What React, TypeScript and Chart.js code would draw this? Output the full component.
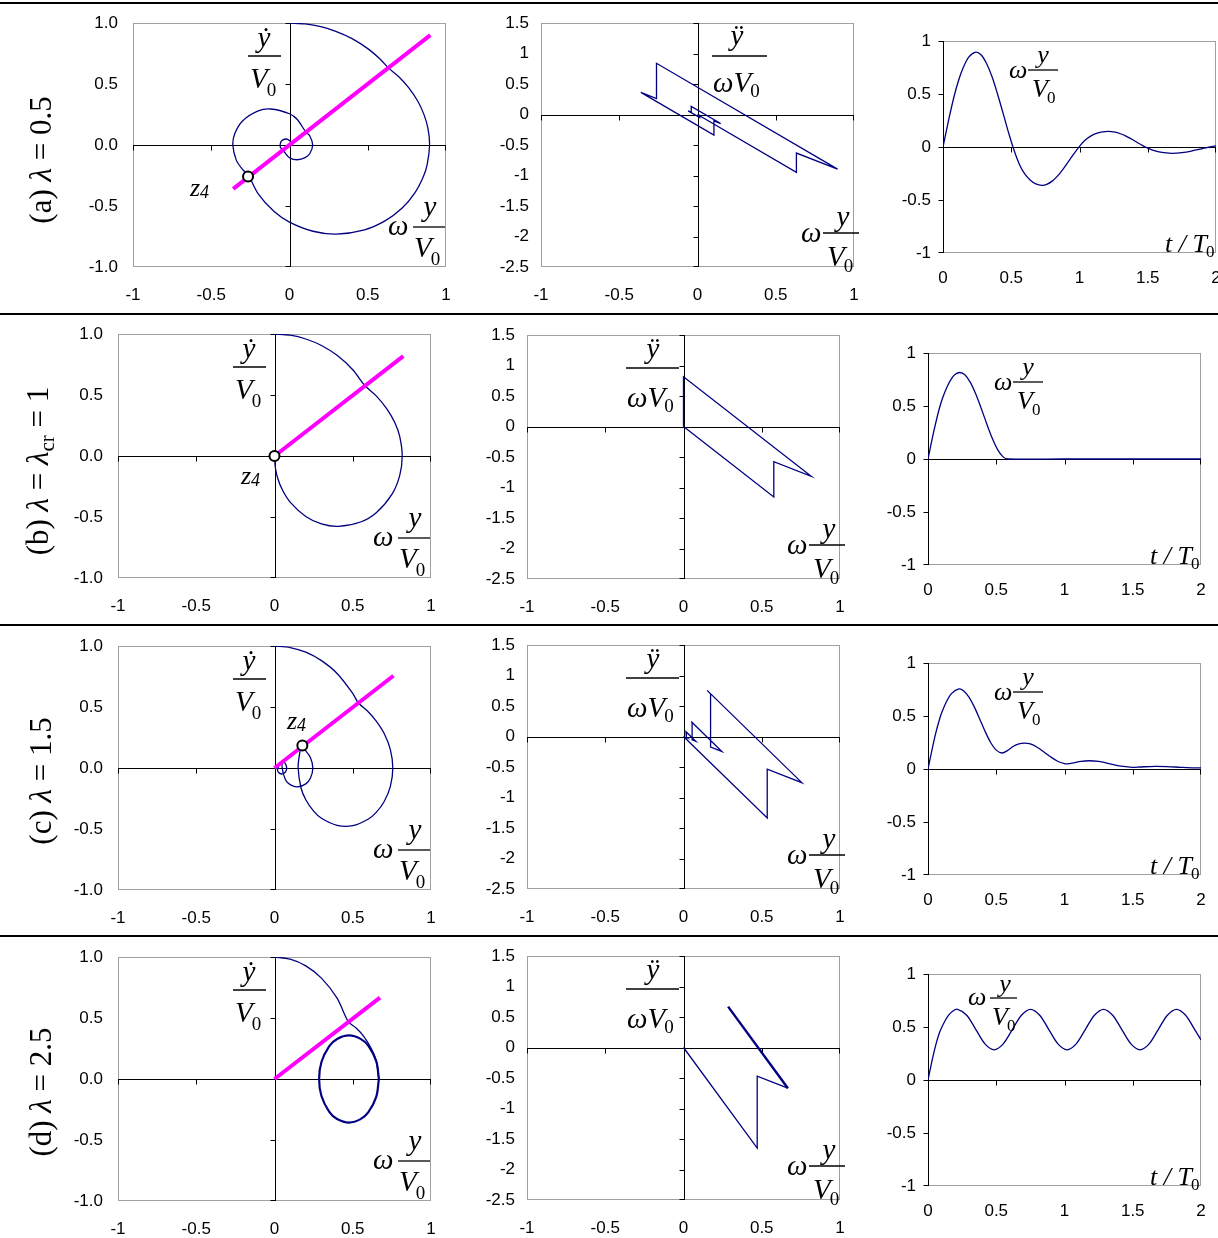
import React, { useEffect, useRef } from 'react';
import { Chart, registerables } from 'chart.js';

Chart.register(...registerables);

// ---------------- tick values and labels ----------------
const PHASE_X_TICKS = [-1, -0.5, 0, 0.5, 1];
const PHASE_X_LABELS = ['-1', '-0.5', '0', '0.5', '1'];
const PHASE_Y_TICKS = [-1, -0.5, 0, 0.5, 1];
const PHASE_Y_LABELS = ['-1.0', '-0.5', '0.0', '0.5', '1.0'];
const ACC_Y_TICKS = [-2.5, -2, -1.5, -1, -0.5, 0, 0.5, 1, 1.5];
const ACC_Y_LABELS = ['-2.5', '-2', '-1.5', '-1', '-0.5', '0', '0.5', '1', '1.5'];
const TIME_X_TICKS = [0, 0.5, 1, 1.5, 2];
const TIME_X_LABELS = ['0', '0.5', '1', '1.5', '2'];
const TIME_Y_TICKS = [-1, -0.5, 0, 0.5, 1];
const TIME_Y_LABELS = ['-1', '-0.5', '0', '0.5', '1'];

// ---------------- (a) λ = 0.5 ----------------
const phaseA_x = [0, 0.1, 0.2, 0.3, 0.4, 0.5, 0.58, 0.632, 0.7, 0.76, 0.82, 0.86, 0.885, 0.895, 0.88, 0.855, 0.8, 0.72, 0.61, 0.48, 0.3, 0.15, 0, -0.1, -0.2, -0.262, -0.3, -0.34, -0.362, -0.35, -0.3, -0.2, -0.12, 0, 0.05, 0.105, 0.13, 0.148, 0.13, 0.1, 0.05, 0, -0.04, -0.055, -0.06, -0.05, -0.02, 0.005, 0.02];
const phaseA_y = [1, 0.992, 0.97, 0.93, 0.872, 0.79, 0.703, 0.632, 0.558, 0.472, 0.359, 0.247, 0.134, 0, -0.158, -0.26, -0.394, -0.516, -0.622, -0.695, -0.73, -0.707, -0.632, -0.543, -0.4, -0.25, -0.2, -0.124, 0, 0.092, 0.197, 0.279, 0.295, 0.256, 0.209, 0.105, 0.074, 0, -0.07, -0.104, -0.121, -0.104, -0.045, -0.025, 0, 0.035, 0.049, 0.03, 0];
const lineA_x = [-0.36, 0.9];
const lineA_y = [-0.36, 0.9];
const z4A = [-0.265, -0.258];
const accA_x = [0, 0.632, 0.632, 0.895, -0.262, -0.262, -0.362, 0.105, 0.105, 0.148, -0.04, -0.04, -0.06, 0.015, 0.015, 0.02];
const accA_y = [0, -0.948, -0.632, -0.895, 0.84, 0.262, 0.362, -0.338, -0.105, -0.148, 0.134, 0.04, 0.06, -0.052, -0.015, -0.02];
const timeA_t = [0, 0.04, 0.08, 0.115, 0.15, 0.19, 0.24, 0.28, 0.32, 0.36, 0.4, 0.44, 0.48, 0.52, 0.56, 0.6, 0.64, 0.68, 0.724, 0.76, 0.8, 0.84, 0.88, 0.92, 0.96, 1.0, 1.04, 1.085, 1.13, 1.17, 1.21, 1.26, 1.3, 1.34, 1.38, 1.42, 1.46, 1.5, 1.56, 1.62, 1.68, 1.75, 1.82, 1.9, 2.0];
const timeA_y = [0, 0.247, 0.472, 0.632, 0.754, 0.85, 0.895, 0.868, 0.786, 0.66, 0.498, 0.319, 0.137, -0.029, -0.165, -0.257, -0.313, -0.348, -0.362, -0.353, -0.322, -0.272, -0.208, -0.136, -0.062, 0.006, 0.063, 0.105, 0.13, 0.143, 0.148, 0.141, 0.125, 0.103, 0.075, 0.045, 0.015, -0.011, -0.04, -0.053, -0.06, -0.054, -0.039, -0.015, 0.011];

// ---------------- (b) λ = λcr = 1 ----------------
const phaseB_x = [0, 0.1, 0.2, 0.3, 0.4, 0.5, 0.577, 0.65, 0.72, 0.77, 0.8, 0.816, 0.8, 0.75, 0.65, 0.55, 0.408, 0.3, 0.2, 0.1, 0.05, 0.02, 0.005, 0];
const phaseB_y = [1, 0.99, 0.959, 0.906, 0.825, 0.707, 0.578, 0.493, 0.383, 0.27, 0.16, 0, -0.161, -0.315, -0.465, -0.541, -0.577, -0.557, -0.496, -0.378, -0.277, -0.18, -0.09, 0];
const lineB_x = [0, 0.823];
const lineB_y = [0, 0.818];
const z4B = [0, 0];
const accB_x = [0, 0.577, 0.577, 0.816, 0, 0];
const accB_y = [0, -1.155, -0.577, -0.816, 0.816, 0];
const timeB_t = [0, 0.04, 0.08, 0.1075, 0.14, 0.17, 0.2, 0.2325, 0.27, 0.31, 0.35, 0.39, 0.43, 0.47, 0.51, 0.55, 0.586, 1.0, 1.5, 2.0];
const timeB_y = [0, 0.246, 0.462, 0.577, 0.682, 0.754, 0.799, 0.816, 0.794, 0.723, 0.613, 0.477, 0.333, 0.198, 0.089, 0.02, 0, 0, 0, 0];

// ---------------- (c) λ = 1.5 ----------------
const phaseC_x = [0, 0.1, 0.2, 0.3, 0.4, 0.5, 0.535, 0.6, 0.65, 0.7, 0.74, 0.756, 0.74, 0.7, 0.65, 0.6, 0.5, 0.4, 0.3, 0.25, 0.2, 0.17, 0.151, 0.16, 0.173, 0.2, 0.23, 0.245, 0.23, 0.2, 0.147, 0.1, 0.07, 0.049, 0.055, 0.07, 0.078, 0.07, 0.047, 0.025, 0.016, 0.018, 0.025, 0.02];
const phaseC_y = [1, 0.987, 0.949, 0.88, 0.775, 0.612, 0.535, 0.459, 0.385, 0.285, 0.153, 0, -0.153, -0.277, -0.364, -0.418, -0.473, -0.47, -0.412, -0.353, -0.26, -0.166, 0, 0.114, 0.173, 0.141, 0.084, 0, -0.082, -0.13, -0.155, -0.136, -0.096, 0, 0.055, 0.034, 0, -0.033, -0.049, -0.035, 0, 0.018, 0, -0.01];
const lineC_x = [0, 0.76];
const lineC_y = [0, 0.756];
const z4C = [0.178, 0.185];
const accC_x = [0, 0.535, 0.535, 0.756, 0.151, 0.173, 0.173, 0.245, 0.049, 0.055, 0.055, 0.078, 0.016, 0.018, 0.018, 0.025, 0.02];
const accC_y = [0, -1.336, -0.535, -0.756, 0.756, 0.701, -0.173, -0.245, 0.245, 0.23, -0.055, -0.078, 0.078, 0.072, -0.018, -0.025, -0.0125];
const timeC_t = [0, 0.03, 0.06, 0.09, 0.1016, 0.13, 0.17, 0.2266, 0.26, 0.3, 0.34, 0.38, 0.42, 0.46, 0.5, 0.543, 0.581, 0.62, 0.66, 0.706, 0.75, 0.8, 0.85, 0.9, 0.95, 1.0, 1.022, 1.057, 1.12, 1.182, 1.25, 1.32, 1.4, 1.498, 1.55, 1.66, 1.75, 1.85, 1.95, 2.0];
const timeC_y = [0, 0.186, 0.355, 0.493, 0.535, 0.621, 0.709, 0.756, 0.739, 0.679, 0.584, 0.468, 0.35, 0.248, 0.178, 0.151, 0.173, 0.21, 0.235, 0.245, 0.236, 0.205, 0.161, 0.113, 0.073, 0.051, 0.049, 0.055, 0.072, 0.078, 0.071, 0.053, 0.029, 0.016, 0.019, 0.025, 0.023, 0.016, 0.01, 0.01];

// ---------------- (d) λ = 2.5 ----------------
const phaseD_x = [0, 0.1, 0.2, 0.3, 0.4, 0.471, 0.52, 0.57, 0.62, 0.65, 0.667];
const phaseD_y = [1, 0.982, 0.927, 0.827, 0.663, 0.471, 0.42, 0.35, 0.246, 0.15, 0];
const cycleD_x = [0.667, 0.65, 0.6, 0.55, 0.476, 0.4, 0.35, 0.3, 0.285, 0.3, 0.35, 0.4, 0.476, 0.55, 0.6, 0.65, 0.667];
const cycleD_y = [0, -0.147, -0.272, -0.329, -0.357, -0.328, -0.269, -0.139, 0, 0.139, 0.269, 0.328, 0.357, 0.329, 0.272, 0.147, 0];
const lineD_x = [0, 0.674];
const lineD_y = [0, 0.667];
const accD_x = [0, 0.471, 0.471, 0.667];
const accD_y = [0, -1.649, -0.471, -0.667];
const accCycleD_x = [0.667, 0.285];
const accCycleD_y = [-0.667, 0.67];
const timeD_t = [0, 0.02, 0.04, 0.06, 0.08, 0.0917, 0.12, 0.15, 0.18, 0.217, 0.2838, 0.3506, 0.4174, 0.4843, 0.5511, 0.6179, 0.6847, 0.7515, 0.8183, 0.8851, 0.952, 1.0188, 1.0856, 1.1524, 1.2192, 1.286, 1.3528, 1.4197, 1.4865, 1.5533, 1.6201, 1.6869, 1.7537, 1.8205, 1.8873, 1.9541, 2.0];
const timeD_y = [0, 0.1245, 0.242, 0.346, 0.432, 0.471, 0.547, 0.609, 0.649, 0.667, 0.611, 0.476, 0.341, 0.285, 0.341, 0.476, 0.611, 0.667, 0.611, 0.476, 0.341, 0.285, 0.341, 0.476, 0.611, 0.667, 0.611, 0.476, 0.341, 0.285, 0.341, 0.476, 0.611, 0.667, 0.611, 0.476, 0.378];

// ---------------- styling helpers ----------------
const NAVY = '#000080';
const MAGENTA = '#ff00ff';
const SERIF = '"Liberation Serif", "Times New Roman", serif';
const SANS = '"Liberation Sans", Arial, sans-serif';

const pts = (xs: number[], ys: number[]) => xs.map((x, i) => ({ x, y: ys[i] }));
const curve = (xs: number[], ys: number[], tension = 0.3, width = 1.3) => ({
  data: pts(xs, ys), showLine: true, borderColor: NAVY, backgroundColor: NAVY,
  borderWidth: width, pointRadius: 0, pointHoverRadius: 0, tension, fill: false,
});
const magentaLine = (xs: number[], ys: number[]) => ({
  data: pts(xs, ys), showLine: true, borderColor: MAGENTA, backgroundColor: MAGENTA,
  borderWidth: 4, pointRadius: 0, pointHoverRadius: 0, tension: 0, fill: false,
});
const marker = (p: number[]) => ({
  data: [{ x: p[0], y: p[1] }], showLine: false, pointRadius: 5, pointHoverRadius: 5,
  pointBackgroundColor: '#ffffff', pointBorderColor: '#000000', pointBorderWidth: 2,
});

type TextItem = { t: string; x: number; y: number; size: number; italic?: boolean; align?: CanvasTextAlign; follow?: boolean };
type Bar = { x1: number; x2: number; y: number };

type Spec = {
  L: number; T: number; W: number; H: number;
  padL: number; padR: number; padT: number; padB: number;
  xMin: number; xMax: number; yMin: number; yMax: number;
  xTicks: number[]; xLabels: string[]; yTicks: number[]; yLabels: string[];
  yLabelPad: number; xLabelPad: number;
  datasets: any[]; texts: TextItem[]; bars: Bar[];
};

// ---------- in-plot math labels (positions relative to plot area) ----------
const col1Texts = (z4?: number[]): TextItem[] => {
  const t: TextItem[] = [
    { t: 'ẏ', x: 131, y: 24, size: 29, italic: true, align: 'center' },
    { t: 'V', x: 117, y: 65, size: 29, italic: true },
    { t: '0', x: -1, y: 73, size: 19, follow: true },
    { t: 'ω', x: 255, y: 212, size: 29, italic: true },
    { t: 'y', x: 297, y: 193, size: 29, italic: true, align: 'center' },
    { t: 'V', x: 281, y: 234, size: 29, italic: true },
    { t: '0', x: -1, y: 242, size: 19, follow: true },
  ];
  if (z4) {
    t.push({ t: 'z', x: z4[0], y: z4[1], size: 26, italic: true });
    t.push({ t: '4', x: 0, y: z4[1] + 1.5, size: 18, italic: true, follow: true });
  }
  return t;
};
const col1Bars: Bar[] = [{ x1: 115, x2: 148, y: 33 }, { x1: 280, x2: 312, y: 204 }];

const col2Texts = (rowA: boolean): TextItem[] => {
  const top: TextItem[] = rowA
    ? [
        { t: 'ÿ', x: 196, y: 22, size: 29, italic: true, align: 'center' },
        { t: 'ωV', x: 172, y: 69, size: 29, italic: true },
        { t: '0', x: -1, y: 74, size: 19, follow: true },
      ]
    : [
        { t: 'ÿ', x: 126, y: 23, size: 29, italic: true, align: 'center' },
        { t: 'ωV', x: 100, y: 72, size: 29, italic: true },
        { t: '0', x: -1, y: 77, size: 19, follow: true },
      ];
  return top.concat([
    { t: 'ω', x: 260, y: 219, size: 29, italic: true },
    { t: 'y', x: 302, y: 203, size: 29, italic: true, align: 'center' },
    { t: 'V', x: 286, y: 243, size: 29, italic: true },
    { t: '0', x: -1, y: 249, size: 19, follow: true },
  ]);
};
const col2Bars = (rowA: boolean): Bar[] => [
  rowA ? { x1: 171, x2: 226, y: 33 } : { x1: 99, x2: 152, y: 33 },
  { x1: 282, x2: 318, y: 210 },
];

const col3Texts = (rowD: boolean): TextItem[] => {
  const top: TextItem[] = rowD
    ? [
        { t: 'ω', x: 40, y: 31, size: 26, italic: true },
        { t: 'y', x: 77, y: 18, size: 26, italic: true, align: 'center' },
        { t: 'V', x: 64, y: 51, size: 26, italic: true },
        { t: '0', x: -1, y: 57, size: 17, follow: true },
      ]
    : [
        { t: 'ω', x: 66, y: 37, size: 26, italic: true },
        { t: 'y', x: 100, y: 22, size: 26, italic: true, align: 'center' },
        { t: 'V', x: 89, y: 56, size: 26, italic: true },
        { t: '0', x: -1, y: 62, size: 17, follow: true },
      ];
  return top.concat([
    { t: 't / T', x: 222, y: 211, size: 26, italic: true },
    { t: '0', x: -1, y: 216, size: 17, follow: true },
  ]);
};
const col3Bars = (rowD: boolean): Bar[] => [rowD ? { x1: 62, x2: 89, y: 24 } : { x1: 85, x2: 115, y: 29 }];

// ---------- panel spec builders ----------
const phaseSpec = (L: number, T: number, datasets: any[], texts: TextItem[]): Spec => ({
  L, T, W: 313, H: 244, padL: 80, padR: 20, padT: 20, padB: 40,
  xMin: -1, xMax: 1, yMin: -1, yMax: 1,
  xTicks: PHASE_X_TICKS, xLabels: PHASE_X_LABELS, yTicks: PHASE_Y_TICKS, yLabels: PHASE_Y_LABELS,
  yLabelPad: 15, xLabelPad: 18, datasets, texts, bars: col1Bars,
});
const accSpec = (L: number, T: number, datasets: any[], rowA: boolean): Spec => ({
  L, T, W: 313, H: 244, padL: 62, padR: 20, padT: 20, padB: 40,
  xMin: -1, xMax: 1, yMin: -2.5, yMax: 1.5,
  xTicks: PHASE_X_TICKS, xLabels: PHASE_X_LABELS, yTicks: ACC_Y_TICKS, yLabels: ACC_Y_LABELS,
  yLabelPad: 12, xLabelPad: 18, datasets, texts: col2Texts(rowA), bars: col2Bars(rowA),
});
const timeSpec = (L: number, T: number, datasets: any[], rowD: boolean, padR = 17): Spec => ({
  L, T, W: 273, H: 212, padL: 55, padR, padT: 20, padB: 40,
  xMin: 0, xMax: 2, yMin: -1, yMax: 1,
  xTicks: TIME_X_TICKS, xLabels: TIME_X_LABELS, yTicks: TIME_Y_TICKS, yLabels: TIME_Y_LABELS,
  yLabelPad: 12, xLabelPad: 15, datasets, texts: col3Texts(rowD), bars: col3Bars(rowD),
});

const SPECS: Spec[] = [
  // row (a)
  phaseSpec(133, 23, [marker(z4A), magentaLine(lineA_x, lineA_y), curve(phaseA_x, phaseA_y)], col1Texts([57, 173])),
  accSpec(541, 23, [curve(accA_x, accA_y, 0)], true),
  timeSpec(943, 41, [curve(timeA_t, timeA_y, 0.3)], false, 2),
  // row (b)
  phaseSpec(118, 334, [marker(z4B), magentaLine(lineB_x, lineB_y), curve(phaseB_x, phaseB_y)], col1Texts([123, 150])),
  accSpec(527, 335, [curve(accB_x, accB_y, 0)], false),
  timeSpec(928, 353, [curve(timeB_t, timeB_y, 0.3)], false),
  // row (c)
  phaseSpec(118, 646, [marker(z4C), magentaLine(lineC_x, lineC_y), curve(phaseC_x, phaseC_y)], col1Texts([169, 83])),
  accSpec(527, 645, [curve(accC_x, accC_y, 0)], false),
  timeSpec(928, 663, [curve(timeC_t, timeC_y, 0.3)], false),
  // row (d)
  phaseSpec(118, 957, [magentaLine(lineD_x, lineD_y), curve(cycleD_x, cycleD_y, 0.35, 2.2), curve(phaseD_x, phaseD_y)], col1Texts()),
  accSpec(527, 956, [curve(accCycleD_x, accCycleD_y, 0, 2.4), curve(accD_x, accD_y, 0)], false),
  timeSpec(928, 974, [curve(timeD_t, timeD_y, 0.3)], true),
];

function Panel({ spec }: { spec: Spec }) {
  const ref = useRef<HTMLCanvasElement>(null);
  useEffect(() => {
    const s = spec;
    const frame = {
      id: 'frame',
      beforeDatasetsDraw(chart: any) {
        const { ctx, chartArea } = chart;
        const { left, top, right, bottom } = chartArea;
        const xs = chart.scales.x;
        const ys = chart.scales.y;
        ctx.save();
        ctx.lineWidth = 1;
        ctx.strokeStyle = '#a0a0a0';
        ctx.strokeRect(left + 0.5, top + 0.5, right - left - 1, bottom - top - 1);
        const x0 = Math.round(xs.getPixelForValue(0)) + 0.5;
        const y0 = Math.round(ys.getPixelForValue(0)) + 0.5;
        ctx.strokeStyle = '#000';
        ctx.beginPath();
        ctx.moveTo(left, y0); ctx.lineTo(right, y0);
        ctx.moveTo(x0, top); ctx.lineTo(x0, bottom);
        s.xTicks.forEach((v) => {
          const p = Math.min(Math.round(xs.getPixelForValue(v)), right - 1) + 0.5;
          ctx.moveTo(p, y0); ctx.lineTo(p, y0 + 5);
        });
        s.yTicks.forEach((v) => {
          const p = Math.min(Math.round(ys.getPixelForValue(v)), bottom - 1) + 0.5;
          ctx.moveTo(x0 - 5, p); ctx.lineTo(x0, p);
        });
        ctx.stroke();
        ctx.restore();
      },
      afterDraw(chart: any) {
        const { ctx, chartArea } = chart;
        const { left, top } = chartArea;
        ctx.save();
        ctx.fillStyle = '#000';
        ctx.textBaseline = 'alphabetic';
        let lastEnd = 0;
        s.texts.forEach((it) => {
          ctx.font = `${it.italic ? 'italic ' : ''}${it.size}px ${SERIF}`;
          ctx.textAlign = it.follow ? 'left' : (it.align || 'left');
          const x = it.follow ? lastEnd + it.x : left + it.x;
          ctx.fillText(it.t, x, top + it.y);
          const w = ctx.measureText(it.t).width;
          const a = ctx.textAlign;
          lastEnd = a === 'center' ? x + w / 2 : a === 'right' ? x : x + w;
        });
        ctx.strokeStyle = '#000';
        ctx.lineWidth = 1.3;
        s.bars.forEach((b) => {
          ctx.beginPath();
          ctx.moveTo(left + b.x1, top + b.y);
          ctx.lineTo(left + b.x2, top + b.y);
          ctx.stroke();
        });
        ctx.restore();
      },
    };
    const tickFont = { family: SANS, size: 17 };
    const chart = new Chart(ref.current as HTMLCanvasElement, {
      type: 'scatter',
      data: { datasets: s.datasets },
      options: {
        responsive: false,
        maintainAspectRatio: false,
        animation: false,
        devicePixelRatio: 1,
        events: [],
        layout: { padding: { left: 0, top: s.padT, right: s.padR, bottom: 0 } },
        plugins: { legend: { display: false }, tooltip: { enabled: false } },
        scales: {
          x: {
            type: 'linear', min: s.xMin, max: s.xMax,
            afterBuildTicks: (sc: any) => { sc.ticks = s.xTicks.map((v) => ({ value: v })); },
            ticks: {
              callback: (_v: any, i: number) => s.xLabels[i],
              autoSkip: false, maxRotation: 0, minRotation: 0,
              padding: s.xLabelPad, color: '#000', font: tickFont,
            },
            grid: { display: false, drawTicks: false }, border: { display: false },
            afterFit: (sc: any) => { sc.height = s.padB; sc.paddingLeft = 0; sc.paddingRight = 0; },
          },
          y: {
            type: 'linear', min: s.yMin, max: s.yMax,
            afterBuildTicks: (sc: any) => { sc.ticks = s.yTicks.map((v) => ({ value: v })); },
            ticks: {
              callback: (_v: any, i: number) => s.yLabels[i],
              autoSkip: false, padding: s.yLabelPad, color: '#000', font: tickFont,
            },
            grid: { display: false, drawTicks: false }, border: { display: false },
            afterFit: (sc: any) => { sc.width = s.padL; sc.paddingTop = 0; sc.paddingBottom = 0; },
          },
        },
      } as any,
      plugins: [frame],
    });
    return () => chart.destroy();
  }, [spec]);
  const cw = spec.padL + spec.W + spec.padR;
  const ch = spec.padT + spec.H + spec.padB;
  return (
    <canvas
      ref={ref}
      width={cw}
      height={ch}
      style={{ position: 'absolute', left: spec.L - spec.padL, top: spec.T - spec.padT, width: cw, height: ch }}
    />
  );
}

const rowLabelStyle = (cx: number, cy: number): React.CSSProperties => ({
  position: 'absolute', left: cx, top: cy,
  transform: 'translate(-50%, -50%) rotate(-90deg)',
  whiteSpace: 'nowrap', fontFamily: SERIF, fontSize: 31, lineHeight: 1, color: '#000',
});

const SEPARATORS = [2, 313, 624, 935];

export default function App() {
  return (
    <div style={{ position: 'absolute', left: 0, top: 0, width: 1218, height: 1238, background: '#fff', overflow: 'hidden' }}>
      {SEPARATORS.map((y) => (
        <div key={y} style={{ position: 'absolute', left: 0, top: y, width: 1218, height: 2, background: '#000' }} />
      ))}
      {SPECS.map((s, i) => <Panel key={i} spec={s} />)}
      <div style={rowLabelStyle(40, 160)}>(a) <i>λ</i> = 0.5</div>
      <div style={rowLabelStyle(40, 471)}>(b) <i>λ</i> = <i>λ</i><sub style={{ fontSize: 21, verticalAlign: -6 }}>cr</sub> = 1</div>
      <div style={rowLabelStyle(40, 781)}>(c) <i>λ</i> = 1.5</div>
      <div style={rowLabelStyle(40, 1092)}>(d) <i>λ</i> = 2.5</div>
    </div>
  );
}
